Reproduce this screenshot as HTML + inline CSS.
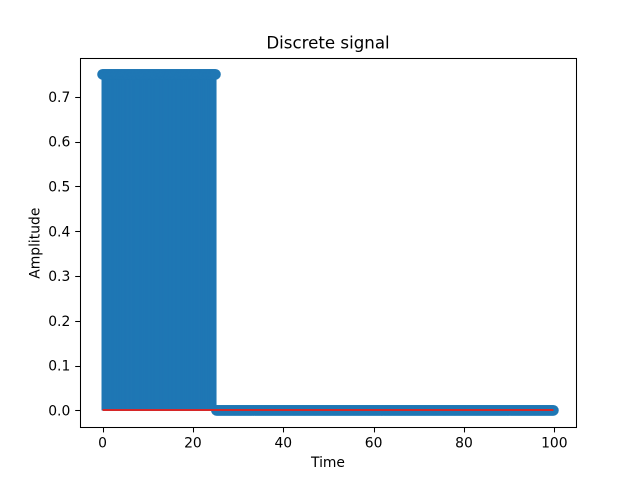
<!DOCTYPE html>
<html>
<head>
<meta charset="utf-8">
<title>Discrete signal</title>
<style>
html,body{margin:0;padding:0;background:#fff;width:640px;height:480px;overflow:hidden}
svg{display:block}
text{font-family:"DejaVu Sans","Liberation Sans",sans-serif;fill:#000}
</style>
</head>
<body>
<svg id="fig" width="640" height="480" viewBox="0 0 640 480" xmlns="http://www.w3.org/2000/svg">
  <rect x="0" y="0" width="640" height="480" fill="#ffffff"/>
  <rect x="80" y="57.6" width="496" height="369.6" fill="#ffffff"/>
  <g id="stems"></g>
  <g id="markers"></g>
  <line id="baseline" stroke="#d62728" stroke-width="2"/>
  <g id="ticks"></g>
  <rect x="80.5" y="58.5" width="496" height="369" fill="none" stroke="#000" stroke-width="1.05"/>
  <text x="328" y="48.6" font-size="16.67" text-anchor="middle">Discrete signal</text>
  <text x="328" y="467" font-size="13.89" text-anchor="middle">Time</text>
  <text transform="translate(39.5 243.2) rotate(-90)" font-size="13.89" text-anchor="middle">Amplitude</text>
</svg>
<script>
const sampleStep = 0.2;
const xTickLabels = [0, 20, 40, 60, 80, 100];
const yTickLabels = ["0.0", "0.1", "0.2", "0.3", "0.4", "0.5", "0.6", "0.7"];
const signalValues = [
0.75,0.75,0.75,0.75,0.75,0.75,0.75,0.75,0.75,0.75,0.75,0.75,0.75,0.75,0.75,0.75,0.75,0.75,0.75,0.75,
0.75,0.75,0.75,0.75,0.75,0.75,0.75,0.75,0.75,0.75,0.75,0.75,0.75,0.75,0.75,0.75,0.75,0.75,0.75,0.75,
0.75,0.75,0.75,0.75,0.75,0.75,0.75,0.75,0.75,0.75,0.75,0.75,0.75,0.75,0.75,0.75,0.75,0.75,0.75,0.75,
0.75,0.75,0.75,0.75,0.75,0.75,0.75,0.75,0.75,0.75,0.75,0.75,0.75,0.75,0.75,0.75,0.75,0.75,0.75,0.75,
0.75,0.75,0.75,0.75,0.75,0.75,0.75,0.75,0.75,0.75,0.75,0.75,0.75,0.75,0.75,0.75,0.75,0.75,0.75,0.75,
0.75,0.75,0.75,0.75,0.75,0.75,0.75,0.75,0.75,0.75,0.75,0.75,0.75,0.75,0.75,0.75,0.75,0.75,0.75,0.75,
0.75,0.75,0.75,0.75,0.75,0.75,
0,0,0,0,0,0,0,0,0,0,0,0,0,0,0,0,0,0,0,0,
0,0,0,0,0,0,0,0,0,0,0,0,0,0,0,0,0,0,0,0,
0,0,0,0,0,0,0,0,0,0,0,0,0,0,0,0,0,0,0,0,
0,0,0,0,0,0,0,0,0,0,0,0,0,0,0,0,0,0,0,0,
0,0,0,0,0,0,0,0,0,0,0,0,0,0,0,0,0,0,0,0,
0,0,0,0,0,0,0,0,0,0,0,0,0,0,0,0,0,0,0,0,
0,0,0,0,0,0,0,0,0,0,0,0,0,0,0,0,0,0,0,0,
0,0,0,0,0,0,0,0,0,0,0,0,0,0,0,0,0,0,0,0,
0,0,0,0,0,0,0,0,0,0,0,0,0,0,0,0,0,0,0,0,
0,0,0,0,0,0,0,0,0,0,0,0,0,0,0,0,0,0,0,0,
0,0,0,0,0,0,0,0,0,0,0,0,0,0,0,0,0,0,0,0,
0,0,0,0,0,0,0,0,0,0,0,0,0,0,0,0,0,0,0,0,
0,0,0,0,0,0,0,0,0,0,0,0,0,0,0,0,0,0,0,0,
0,0,0,0,0,0,0,0,0,0,0,0,0,0,0,0,0,0,0,0,
0,0,0,0,0,0,0,0,0,0,0,0,0,0,0,0,0,0,0,0,
0,0,0,0,0,0,0,0,0,0,0,0,0,0,0,0,0,0,0,0,
0,0,0,0,0,0,0,0,0,0,0,0,0,0,0,0,0,0,0,0,
0,0,0,0,0,0,0,0,0,0,0,0,0,0,0,0,0,0,0,0,
0,0,0,0,0,0,0,0,0,0,0,0,0,0
];

const NS = "http://www.w3.org/2000/svg";
const plot = {left: 80, right: 576, top: 57.6, bottom: 427.2};
const lastT = (signalValues.length - 1) * sampleStep;
const xMin = 0 - 0.05 * lastT, xMax = lastT + 0.05 * lastT;
const yTop = Math.max.apply(null, signalValues);
const yBot = Math.min.apply(null, signalValues);
const yPad = 0.05 * (yTop - yBot);
const yMin = yBot - yPad, yMax = yTop + yPad;
function xScale(v){ return plot.left + (v - xMin) / (xMax - xMin) * (plot.right - plot.left); }
function yScale(v){ return plot.bottom - (v - yMin) / (yMax - yMin) * (plot.bottom - plot.top); }
function snap(p){ return Math.floor(p + 0.5) + 0.5; }
function make(tag, attrs){
  const el = document.createElementNS(NS, tag);
  for (const k in attrs) el.setAttribute(k, attrs[k]);
  return el;
}

const stems = document.getElementById("stems");
const markers = document.getElementById("markers");
signalValues.forEach(function(v, i){
  const t = i * sampleStep;
  const ln = make("line", {x1: xScale(t), x2: xScale(t), y1: yScale(0), y2: yScale(v), stroke: "#1f77b4", "stroke-width": 2.08});
  
  
  stems.appendChild(ln);
});
signalValues.forEach(function(v, i){
  const t = i * sampleStep;
  const c = make("circle", {cx: xScale(t), cy: yScale(v), r: 5.3, fill: "#1f77b4"});
  
  
  markers.appendChild(c);
});

const base = document.getElementById("baseline");
const baseY = Math.round(yScale(0));
base.setAttribute("x1", xScale(0));
base.setAttribute("x2", xScale(lastT));
base.setAttribute("y1", baseY);
base.setAttribute("y2", baseY);

const ticks = document.getElementById("ticks");
xTickLabels.forEach(function(v){
  const x = xScale(v);
  const sx = snap(x);
  const tk = make("line", {x1: sx, x2: sx, y1: 427.5, y2: 432.4, stroke: "#000", "stroke-width": 1.05});
  
  
  ticks.appendChild(tk);
  const tx = make("text", {x: x, y: 447.5, "font-size": 13.89, "text-anchor": "middle"});
  
  
  tx.textContent = v;
  ticks.appendChild(tx);
});
yTickLabels.forEach(function(label){
  const y = yScale(parseFloat(label));
  const sy = snap(y);
  const tk = make("line", {x1: 75.2, x2: 80.5, y1: sy, y2: sy, stroke: "#000", "stroke-width": 1.05});
  
  
  ticks.appendChild(tk);
  const tx = make("text", {x: 70.3, y: y + 5.1, "font-size": 13.89, "text-anchor": "end"});
  
  
  tx.textContent = label;
  ticks.appendChild(tx);
});
</script>
</body>
</html>
